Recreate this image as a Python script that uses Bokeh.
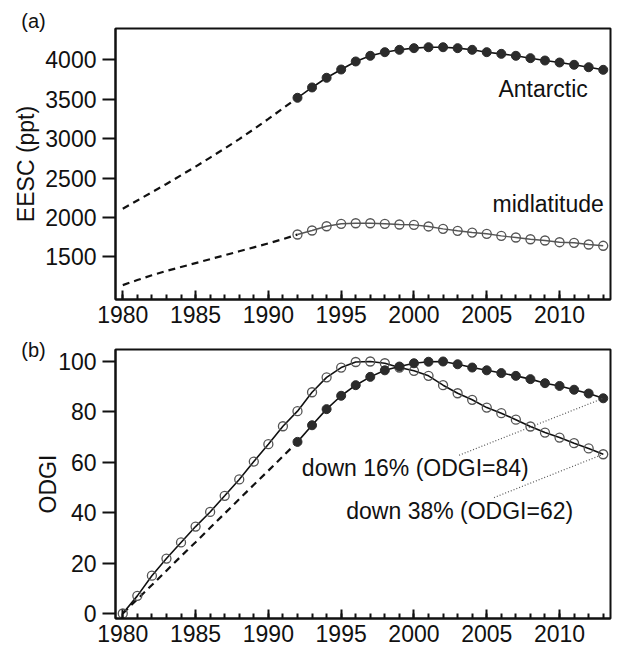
from bokeh.plotting import figure
from bokeh.layouts import column
from bokeh.models import SingleIntervalTicker, FixedTicker, Label, Range1d
from bokeh.embed import file_html
from bokeh.resources import INLINE

# ---------------- data ----------------
years_pre = list(range(1980, 1993))
years_obs = list(range(1992, 2014))
years_all = list(range(1980, 2014))

eesc_ant_pre = [2110, 2215, 2320, 2425, 2535, 2645, 2760, 2875, 2995, 3120, 3250, 3385, 3519]
eesc_ant = [3519, 3650, 3773, 3878, 3980, 4052, 4098, 4128, 4149, 4161, 4161,
            4149, 4128, 4098, 4077, 4052, 4022, 3992, 3967, 3938, 3907, 3874]
eesc_mid_pre = [1140, 1205, 1265, 1320, 1370, 1420, 1470, 1520, 1570, 1620, 1670, 1725, 1783]
eesc_mid = [1783, 1834, 1888, 1919, 1926, 1926, 1919, 1910, 1906, 1885, 1855,
            1830, 1808, 1792, 1766, 1745, 1723, 1707, 1685, 1678, 1656, 1640]

odgi_mid = [0, 7.0, 15.0, 21.8, 28.2, 34.5, 40.3, 46.7, 53.2, 60.3, 67.2, 74.3,
            80.3, 87.8, 93.7, 97.6, 99.8, 100, 99.3, 97.6, 96.3, 94.3, 90.6,
            87.4, 84.8, 81.7, 79.5, 76.9, 74.2, 71.8, 69.8, 67.6, 65.5, 63.2]
odgi_ant_pre = [0, 5.7, 11.3, 17.0, 22.7, 28.3, 34.0, 39.7, 45.4, 51.1, 56.7, 62.4, 68.1]
odgi_ant = [68.1, 74.7, 81.1, 86.4, 90.6, 93.9, 96.5, 98.0, 99.3, 99.9, 100,
            98.9, 97.6, 96.5, 95.4, 94.3, 93.0, 91.4, 90.3, 88.8, 87.3, 85.4]

eesc_ticks = [1500, 2000, 2500, 3000, 3500, 4000]
odgi_ticks = [0, 20, 40, 60, 80, 100]

FONT = "Liberation Sans"
INK = "#111111"
DOT = "#2b2b2b"
OPEN = "#555555"
FS = "23px"


def style(p, yticks, ylabel, ylabel_standoff):
    p.xgrid.visible = False
    p.ygrid.visible = False
    p.outline_line_color = INK
    p.outline_line_width = 2
    p.background_fill_color = "white"
    p.border_fill_color = "white"
    xa = p.xaxis[0]
    xa.ticker = SingleIntervalTicker(interval=5, num_minor_ticks=5)
    xa.major_tick_in = 9
    xa.major_tick_out = 0
    xa.minor_tick_in = 5
    xa.minor_tick_out = 0
    xa.axis_line_width = 2
    xa.major_tick_line_width = 2
    xa.minor_tick_line_width = 2
    xa.axis_line_color = INK
    xa.major_tick_line_color = INK
    xa.minor_tick_line_color = INK
    xa.major_label_text_font = FONT
    xa.major_label_text_font_size = FS
    xa.major_label_text_color = INK
    xa.major_label_standoff = 6
    ya = p.yaxis[0]
    ya.ticker = FixedTicker(ticks=yticks, minor_ticks=[])
    ya.major_tick_in = 0
    ya.major_tick_out = 13
    ya.axis_line_width = 2
    ya.major_tick_line_width = 2
    ya.axis_line_color = INK
    ya.major_tick_line_color = INK
    ya.major_label_text_font = FONT
    ya.major_label_text_font_size = FS
    ya.major_label_text_color = INK
    ya.major_label_standoff = 6
    ya.axis_label = ylabel
    ya.axis_label_text_font = FONT
    ya.axis_label_text_font_size = FS
    ya.axis_label_text_font_style = "normal"
    ya.axis_label_text_color = INK
    ya.axis_label_standoff = ylabel_standoff


def label(p, x, y, text):
    p.add_layout(Label(x=x, y=y, text=text, text_font=FONT, text_font_size=FS,
                       text_color=INK, text_align="left", text_baseline="middle"))


def panel_tag(p, text, sx, sy):
    # placed in the "above" side panel so it is not clipped to the frame
    p.add_layout(Label(x=sx, y=sy, x_units="screen", y_units="screen", text=text,
                       text_font=FONT, text_font_size="20px", text_color=INK,
                       text_align="center", text_baseline="middle"), "above")


# ---------------- panel (a) ----------------
pa = figure(title=None, frame_width=495, frame_height=271, output_backend="svg",
            toolbar_location=None,
            x_range=Range1d(1979.5, 2013.5), y_range=Range1d(957.8, 4398.7),
            min_border_left=115, min_border_right=10, min_border_top=28, min_border_bottom=28)
style(pa, eesc_ticks, "EESC (ppt)", 3)

pa.line(years_pre, eesc_ant_pre, line_color=INK, line_width=2.2, line_dash="7 5")
pa.line(years_pre, eesc_mid_pre, line_color=INK, line_width=2.2, line_dash="7 5")
pa.line(years_obs, eesc_ant, line_color=INK, line_width=1.6)
pa.scatter(years_obs, eesc_ant, size=9, fill_color=DOT, line_color=DOT)
pa.line(years_obs, eesc_mid, line_color=OPEN, line_width=1.4)
pa.scatter(years_obs, eesc_mid, size=9, fill_alpha=0, line_color=OPEN, line_width=1.3)

label(pa, 2005.8, 3633, "Antarctic")
label(pa, 2005.4, 2173, "midlatitude")
panel_tag(pa, "(a)", -82, 7.5)

# ---------------- panel (b) ----------------
pb = figure(title=None, frame_width=495, frame_height=269, output_backend="svg",
            toolbar_location=None,
            x_range=Range1d(1979.5, 2013.5), y_range=Range1d(-1.98, 104.76),
            min_border_left=115, min_border_right=10, min_border_top=20, min_border_bottom=28)
style(pb, odgi_ticks, "ODGI", -6)

pb.line(years_pre, odgi_ant_pre, line_color=INK, line_width=2.2, line_dash="7 5")
pb.line(years_all, odgi_mid, line_color=INK, line_width=1.6)
pb.scatter(years_all, odgi_mid, size=9, fill_alpha=0, line_color=OPEN, line_width=1.3)
pb.line(years_obs, odgi_ant, line_color=INK, line_width=1.6)
pb.scatter(years_obs, odgi_ant, size=9, fill_color=DOT, line_color=DOT)

# dotted leader lines from the labels to the 2013 values
pb.line([2003.1, years_obs[-1]], [62.8, odgi_ant[-1]], line_color="#555555",
        line_width=1.2, line_dash="1 2")
pb.line([2005.5, years_all[-1]], [46.0, odgi_mid[-1]], line_color="#555555",
        line_width=1.2, line_dash="1 2")

label(pb, 1992.3, 57.7, "down 16% (ODGI=84)")
label(pb, 1995.35, 40.75, "down 38% (ODGI=62)")
panel_tag(pb, "(b)", -82, -0.5)

layout = column(pa, pb)
open("out.html", "w").write(file_html(layout, INLINE))
